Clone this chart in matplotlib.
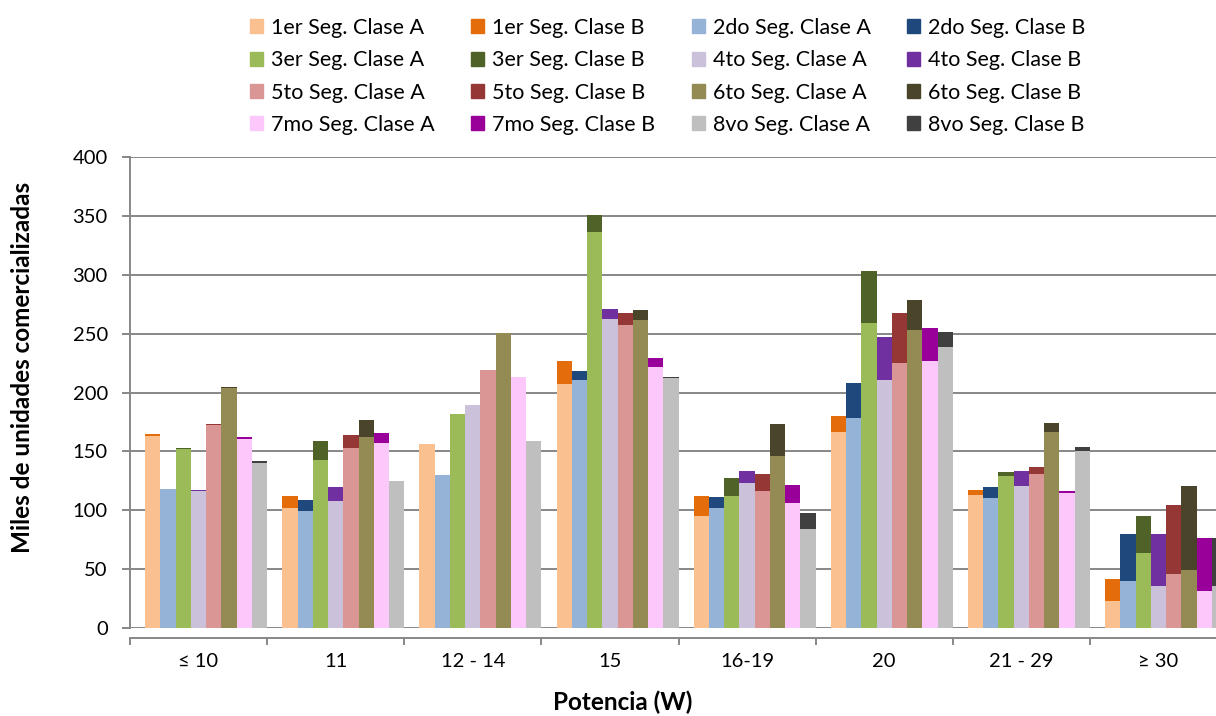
import numpy as np
import matplotlib
matplotlib.use('Agg')
import matplotlib.pyplot as plt
from matplotlib.patches import Patch

plt.rcParams['font.family'] = ['Lato', 'DejaVu Sans']

# categorias de potencia
categories = ['≤ 10', '11', '12 - 14', '15', '16-19', '20', '21 - 29', '≥ 30']
segments = ['1er', '2do', '3er', '4to', '5to', '6to', '7mo', '8vo']

# miles de unidades, clase A y clase B por segmento
seg1_A = [163, 102, 156.5, 207, 95, 166.5, 113, 23]
seg1_B = [1.5, 10, 0, 19.5, 17.5, 13.5, 4, 19]
seg2_A = [118, 99, 130, 211, 101.5, 178.5, 110, 39.5]
seg2_B = [0, 10, 0, 7, 10, 29.5, 9.5, 40]
seg3_A = [152, 143, 181.5, 336.5, 112.5, 259, 129, 63.5]
seg3_B = [0.8, 16, 0, 14, 15, 44.5, 3.5, 32]
seg4_A = [116, 108, 189.5, 262, 123.5, 211, 120.5, 35.5]
seg4_B = [1.5, 11.5, 0, 8.5, 10, 36, 12.5, 44.5]
seg5_A = [172.5, 153, 219.5, 257, 116, 225, 131, 46]
seg5_B = [1, 10.5, 0, 10.5, 15, 42.5, 5.5, 58.5]
seg6_A = [204, 162.5, 250.5, 261.5, 146, 253.5, 166.5, 49.5]
seg6_B = [0.5, 14, 0, 8.5, 27, 25, 7.5, 71]
seg7_A = [160.5, 157, 213.5, 222, 106.5, 227, 114.5, 31.5]
seg7_B = [1.5, 8.5, 0, 7, 15, 27.5, 2, 45]
seg8_A = [140.5, 124.5, 158.5, 212.5, 84, 239, 150.5, 35.5]
seg8_B = [1.2, 0.5, 0, 0.8, 13.5, 12, 3, 41]

class_A = [seg1_A, seg2_A, seg3_A, seg4_A, seg5_A, seg6_A, seg7_A, seg8_A]
class_B = [seg1_B, seg2_B, seg3_B, seg4_B, seg5_B, seg6_B, seg7_B, seg8_B]

colors_A = ['#FAC090', '#95B3D7', '#9BBB59', '#CCC1DA', '#D99694', '#948A54', '#FCC8FC', '#BFBFBF']
colors_B = ['#E46C0A', '#1F497D', '#4F6228', '#7030A0', '#953735', '#4A452A', '#990099', '#404040']

grid_col = '#878787'

fig = plt.figure(figsize=(12.16, 7.16), dpi=100)
# axes goes a bit past the right edge, like the original (clipped)
ax = fig.add_axes([130/1216, 88/716, 1097/1216, 471/716])

x = np.arange(len(categories))
w = 1/9
for j in range(len(segments)):
    pos = x - 0.5 + (j + 1.5) * w
    ax.bar(pos, class_A[j], width=w, color=colors_A[j], linewidth=0, zorder=3)
    ax.bar(pos, class_B[j], width=w, bottom=class_A[j], color=colors_B[j], linewidth=0, zorder=3)

ax.set_xlim(-0.5, len(categories) - 0.5)
ax.set_ylim(0, 400)
ax.set_yticks(np.arange(0, 401, 50))
ax.yaxis.grid(True, color=grid_col, linewidth=1.4, zorder=0)
ax.set_axisbelow(True)

ax.set_xticks(x)
ax.set_xticklabels(categories)
ax.set_xticks(np.arange(-0.5, len(categories)), minor=True)
ax.tick_params(axis='x', which='major', length=0, pad=10.5, labelsize=14.5, colors='black')
ax.tick_params(axis='x', which='minor', length=5, width=1.4, color=grid_col, direction='out')
ax.tick_params(axis='y', length=6, width=1.4, color=grid_col, pad=10, labelsize=14.5)

for s in ['top', 'right']:
    ax.spines[s].set_visible(False)
ax.spines['left'].set_color(grid_col)
ax.spines['left'].set_linewidth(1.4)
ax.spines['bottom'].set_color(grid_col)
ax.spines['bottom'].set_linewidth(1.4)
ax.spines['bottom'].set_position(('outward', 7.5))

fig.text(623/1216, 1 - 702/716, 'Potencia (W)', ha='center', va='center',
         fontsize=17.5, fontweight='bold')
fig.text(23/1216, 1 - 367/716, 'Miles de unidades comercializadas', ha='center', va='center',
         rotation=90, fontsize=17.5, fontweight='bold')

# legend in row order (matplotlib fills by column)
handles = []
for j in range(len(segments)):
    handles.append(Patch(color=colors_A[j], label='{} Seg. Clase A'.format(segments[j])))
    handles.append(Patch(color=colors_B[j], label='{} Seg. Clase B'.format(segments[j])))
ncol = 4
order = [r * ncol + c for c in range(ncol) for r in range(len(handles) // ncol)]
handles = [handles[k] for k in order]
fig.legend(handles=handles, ncol=ncol, loc='upper left', bbox_to_anchor=(250/1216, 1 - 18/716),
           frameon=False, fontsize=15.5, handlelength=0.62, handleheight=0.62,
           handletextpad=0.35, columnspacing=1.7, labelspacing=0.57, borderaxespad=0, borderpad=0)

fig.savefig('out.png', dpi=100)
